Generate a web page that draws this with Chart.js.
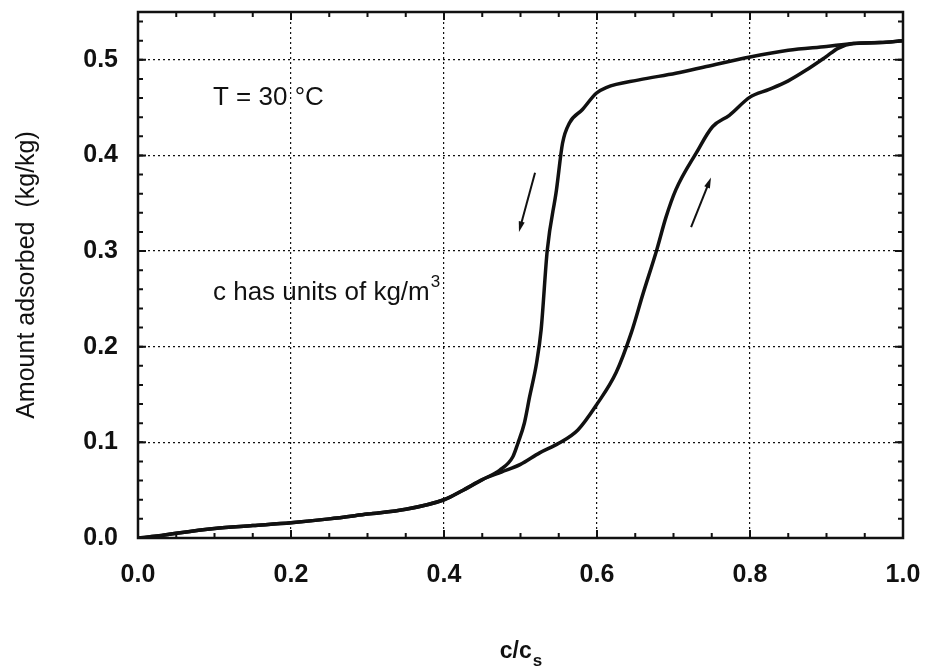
<!DOCTYPE html>
<html>
<head>
<meta charset="utf-8">
<script src="https://cdn.jsdelivr.net/npm/chart.js@4/dist/chart.umd.min.js"></script>
<style>
  html, body { margin: 0; padding: 0; background: #fff; }
  #wrap { width: 927px; height: 670px; }
</style>
</head>
<body>
<div id="wrap"><canvas id="isotherm" width="927" height="670"></canvas></div>
<script>
const FONT = '"Liberation Sans", Arial, Helvetica, sans-serif';
const INK = '#111';

// low-pressure part, common to both branches
const sharedX = [0, 0.025, 0.05, 0.1, 0.15, 0.2, 0.25, 0.3, 0.35, 0.4, 0.425, 0.45];
const sharedY = [0, 0.002, 0.005, 0.010, 0.013, 0.016, 0.020, 0.025, 0.030, 0.040, 0.050, 0.061];

// adsorption branch (right-hand curve)
const adsX = [0.475, 0.5, 0.525, 0.55, 0.575, 0.6, 0.625, 0.645, 0.66, 0.678, 0.69, 0.703, 0.73, 0.751, 0.773, 0.8, 0.825, 0.85, 0.873, 0.899, 0.915, 0.935, 0.97, 1.0];
const adsY = [0.069, 0.077, 0.089, 0.099, 0.113, 0.140, 0.173, 0.215, 0.255, 0.301, 0.335, 0.364, 0.403, 0.430, 0.442, 0.461, 0.469, 0.478, 0.489, 0.503, 0.512, 0.517, 0.518, 0.520];

// desorption branch (left-hand curve)
const desX = [0.473, 0.49, 0.497, 0.505, 0.512, 0.521, 0.527, 0.535, 0.547, 0.555, 0.564, 0.581, 0.599, 0.612, 0.655, 0.703, 0.743, 0.8, 0.85, 0.9, 0.935, 0.97, 1.0];
const desY = [0.071, 0.085, 0.100, 0.120, 0.148, 0.183, 0.218, 0.301, 0.364, 0.413, 0.434, 0.448, 0.465, 0.471, 0.479, 0.486, 0.493, 0.503, 0.510, 0.514, 0.517, 0.518, 0.520];

// direction arrows [from, to]
const arrowDown = [[0.519, 0.382], [0.498, 0.320]];
const arrowUp = [[0.723, 0.325], [0.749, 0.377]];

const xTitle = 'c/c';
const xTitleSub = 's';
const yTitle = 'Amount adsorbed  (kg/kg)';
const noteTemp = 'T = 30 °C';
const noteUnits = 'c has units of kg/m';
const noteUnitsSup = '3';

function toPoints(xs, ys) {
    return xs.map((x, i) => ({ x: x, y: ys[i] }));
}

const near = (a, b) => Math.abs(a - b) < 1e-6;

const branchStyle = {
    showLine: true,
    borderColor: INK,
    borderWidth: 3.5,
    pointRadius: 0,
    fill: false,
    cubicInterpolationMode: 'monotone'
};

// inward tick marks on all four sides, minor and major
function drawTicks(ctx, scale, values, len, horizontal, area) {
    values.forEach(v => {
        const p = scale.getPixelForValue(v);
        ctx.beginPath();
        if (horizontal) {
            ctx.moveTo(p, area.bottom); ctx.lineTo(p, area.bottom - len);
            ctx.moveTo(p, area.top); ctx.lineTo(p, area.top + len);
        } else {
            ctx.moveTo(area.left, p); ctx.lineTo(area.left + len, p);
            ctx.moveTo(area.right, p); ctx.lineTo(area.right - len, p);
        }
        ctx.stroke();
    });
}

function drawArrow(ctx, xs, ys, seg) {
    const x1 = xs.getPixelForValue(seg[0][0]), y1 = ys.getPixelForValue(seg[0][1]);
    const x2 = xs.getPixelForValue(seg[1][0]), y2 = ys.getPixelForValue(seg[1][1]);
    const ang = Math.atan2(y2 - y1, x2 - x1);
    const head = 11, spread = 0.28;
    ctx.beginPath();
    ctx.moveTo(x1, y1);
    ctx.lineTo(x2 - Math.cos(ang) * head * 0.6, y2 - Math.sin(ang) * head * 0.6);
    ctx.stroke();
    ctx.beginPath();
    ctx.moveTo(x2, y2);
    ctx.lineTo(x2 - head * Math.cos(ang - spread), y2 - head * Math.sin(ang - spread));
    ctx.lineTo(x2 - head * Math.cos(ang + spread), y2 - head * Math.sin(ang + spread));
    ctx.closePath();
    ctx.fill();
}

const decorations = {
    id: 'decorations',
    afterDraw(chart) {
        const { ctx, chartArea: area, scales: { x, y } } = chart;
        ctx.save();
        ctx.strokeStyle = INK;
        ctx.fillStyle = INK;

        ctx.lineWidth = 2.5;
        ctx.strokeRect(area.left, area.top, area.right - area.left, area.bottom - area.top);

        ctx.lineWidth = 2;
        const xMinor = [], yMinor = [];
        for (let i = 1; i < 20; i++) xMinor.push(i * 0.05);
        for (let i = 1; i < 28; i++) yMinor.push(i * 0.02);
        drawTicks(ctx, x, xMinor, 5, true, area);
        drawTicks(ctx, y, yMinor, 5, false, area);
        drawTicks(ctx, x, [0.2, 0.4, 0.6, 0.8], 8, true, area);
        drawTicks(ctx, y, [0.1, 0.2, 0.3, 0.4, 0.5], 8, false, area);

        ctx.lineWidth = 2;
        drawArrow(ctx, x, y, arrowDown);
        drawArrow(ctx, x, y, arrowUp);

        // notes inside the plot
        ctx.textBaseline = 'middle';
        ctx.textAlign = 'left';
        ctx.font = '26px ' + FONT;
        const nx = x.getPixelForValue(0.098);
        ctx.fillText(noteTemp, nx, y.getPixelForValue(0.46));
        const uy = y.getPixelForValue(0.256);
        ctx.fillText(noteUnits, nx, uy);
        const w = ctx.measureText(noteUnits).width;
        ctx.font = '17px ' + FONT;
        ctx.fillText(noteUnitsSup, nx + w + 1, uy - 11);

        // x axis title with subscript
        ctx.font = 'bold 23px ' + FONT;
        const mainW = ctx.measureText(xTitle).width;
        ctx.font = 'bold 17px ' + FONT;
        const subW = ctx.measureText(xTitleSub).width;
        const tx = (area.left + area.right) / 2 - (mainW + subW) / 2;
        const ty = 652;
        ctx.font = 'bold 23px ' + FONT;
        ctx.fillText(xTitle, tx, ty);
        ctx.font = 'bold 17px ' + FONT;
        ctx.fillText(xTitleSub, tx + mainW + 1, ty + 9);
        ctx.restore();
    }
};

// fixed plot box: no automatic padding for overhanging labels
function fixX(scale) {
    scale.height = 132;
    scale.paddingLeft = 0;
    scale.paddingRight = 0;
}
function fixY(scale) {
    scale.width = 138;
    scale.paddingTop = 0;
    scale.paddingBottom = 0;
}

const ctx = document.getElementById('isotherm').getContext('2d');
new Chart(ctx, {
    type: 'scatter',
    data: {
        datasets: [
            Object.assign({ data: toPoints(sharedX.concat(adsX), sharedY.concat(adsY)) }, branchStyle),
            Object.assign({ data: toPoints(sharedX.concat(desX), sharedY.concat(desY)) }, branchStyle)
        ]
    },
    options: {
        responsive: false,
        animation: false,
        layout: { padding: { left: 0, top: 12, right: 24, bottom: 0 } },
        scales: {
            x: {
                type: 'linear',
                min: 0,
                max: 1,
                afterFit: fixX,
                ticks: {
                    stepSize: 0.2,
                    padding: 22,
                    color: INK,
                    font: { family: FONT, size: 25, weight: 'bold' },
                    callback: v => v.toFixed(1)
                },
                grid: {
                    drawTicks: false,
                    lineWidth: 1.2,
                    color: c => (near(c.tick.value, 0) || near(c.tick.value, 1)) ? 'rgba(0,0,0,0)' : INK
                },
                border: { display: false, dash: [2, 3] }
            },
            y: {
                type: 'linear',
                min: 0,
                max: 0.55,
                afterFit: fixY,
                ticks: {
                    stepSize: 0.1,
                    padding: 20,
                    color: INK,
                    font: { family: FONT, size: 25, weight: 'bold' },
                    callback: v => v > 0.501 ? '' : v.toFixed(1)
                },
                grid: {
                    drawTicks: false,
                    lineWidth: 1.2,
                    color: c => (near(c.tick.value, 0) || c.tick.value > 0.501) ? 'rgba(0,0,0,0)' : INK
                },
                border: { display: false, dash: [2, 3] },
                title: {
                    display: true,
                    text: yTitle,
                    color: INK,
                    font: { family: FONT, size: 25 },
                    padding: { top: 12, bottom: 0 }
                }
            }
        },
        plugins: {
            legend: { display: false },
            tooltip: { enabled: false }
        }
    },
    plugins: [decorations]
});
</script>
</body>
</html>
